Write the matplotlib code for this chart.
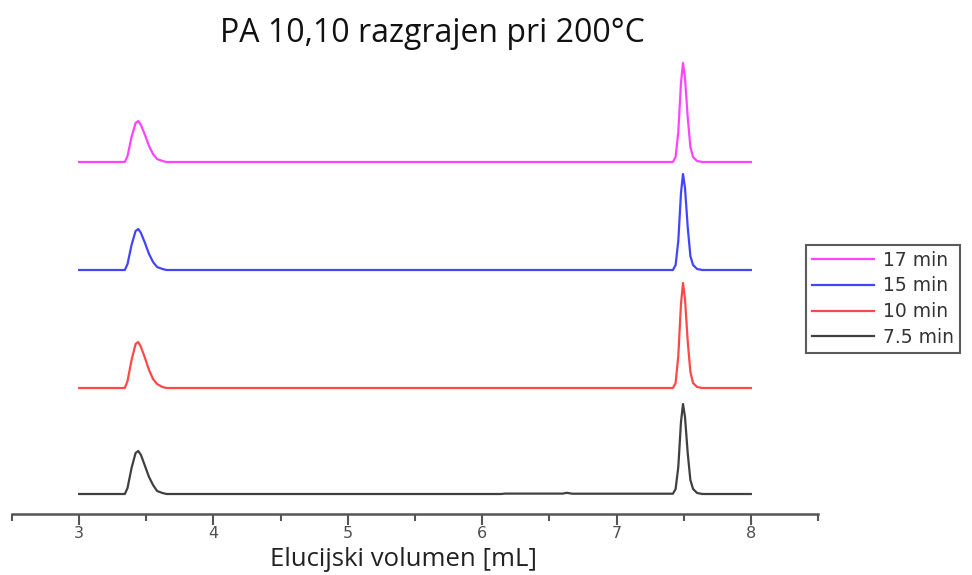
import matplotlib
matplotlib.use("Agg")
import matplotlib.pyplot as plt
from matplotlib.ticker import MultipleLocator

# elution volume sample points (mL), shared by all traces
volume = [3.0, 3.34, 3.36, 3.39, 3.42, 3.44, 3.46, 3.49, 3.52, 3.55, 3.58, 3.62, 3.65,
          6.14, 6.17, 6.60, 6.63, 6.67,
          7.42, 7.44, 7.46, 7.48, 7.495, 7.51, 7.53, 7.55, 7.57, 7.60, 7.64, 8.0]

# detector signal above each baseline (arbitrary units)
sig_75 = [0, 0, 6, 26, 41, 43, 39, 28, 17, 9, 3, 1, 0,
          0, 0.4, 0.4, 1.2, 0.3,
          0.3, 5, 27, 72, 90, 77, 41, 14, 5, 1, 0, 0]
sig_10 = [0, 0, 7, 28, 44, 46, 41, 30, 18, 9, 4, 1, 0,
          0, 0, 0, 0, 0,
          0, 5, 32, 84, 105, 89, 47, 16, 5, 1, 0, 0]
sig_15 = [0, 0, 6, 25, 39, 41, 37, 27, 16, 8, 3, 1, 0,
          0, 0, 0, 0, 0,
          0, 5, 29, 77, 96, 82, 43, 14, 5, 1, 0, 0]
sig_17 = [0, 0, 6, 25, 39, 41, 37, 27, 16, 8, 3, 1, 0,
          0, 0, 0, 0, 0,
          0, 5, 30, 79, 99, 84, 45, 15, 5, 1, 0, 0]

labels = ["17 min", "15 min", "10 min", "7.5 min"]
series = [sig_17, sig_15, sig_10, sig_75]
offsets = [352, 244, 126, 20]
colors = ["#ff44ff", "#4444ff", "#ff4848", "#404040"]

W, H = 972, 575
fig = plt.figure(figsize=(W / 100, H / 100), dpi=100)
ax = fig.add_axes([12 / W, 1 - 514 / H, (818 - 12) / W, (514 - 54) / H])

for lab, sig, off, col in zip(labels, series, offsets, colors):
    ax.plot(volume, [off + s for s in sig], color=col, lw=1.6, label=lab)

ax.set_xlim(2.5, 8.5)
ax.set_ylim(0, 460)
for s in ("left", "right", "top"):
    ax.spines[s].set_visible(False)
ax.spines["bottom"].set_color("#555555")
ax.spines["bottom"].set_linewidth(1.8)
ax.set_yticks([])
ax.xaxis.set_major_locator(MultipleLocator(1))
ax.xaxis.set_minor_locator(MultipleLocator(0.5))
ax.tick_params(axis="x", which="major", direction="out", length=8, width=1.5,
               color="#555555", labelcolor="#505050", labelsize=11.5, pad=1)
ax.tick_params(axis="x", which="minor", direction="out", length=5, width=1.5,
               color="#555555")
for t in ax.get_xticklabels():
    t.set_fontfamily("DejaVu Sans")

fig.text(432 / W, 1 - 33 / H, "PA 10,10 razgrajen pri 200°C", ha="center", va="center",
         fontsize=23, family="Open Sans", color="#111111")
fig.text(403 / W, 1 - 559 / H, "Elucijski volumen [mL]", ha="center", va="center",
         fontsize=18.5, family="Open Sans", color="#222222")

leg = ax.legend(loc="upper left", bbox_to_anchor=(806 / W, 1 - 245 / H),
                bbox_transform=fig.transFigure, frameon=True, fancybox=False,
                prop={"family": "DejaVu Sans", "size": 13.5},
                handlelength=3.3, handletextpad=0.5, labelspacing=0.36,
                borderpad=0.3, borderaxespad=0)
leg.get_frame().set_edgecolor("#333333")
leg.get_frame().set_linewidth(1.5)
for t in leg.get_texts():
    t.set_color("#333333")

fig.savefig("out.png", dpi=100)
